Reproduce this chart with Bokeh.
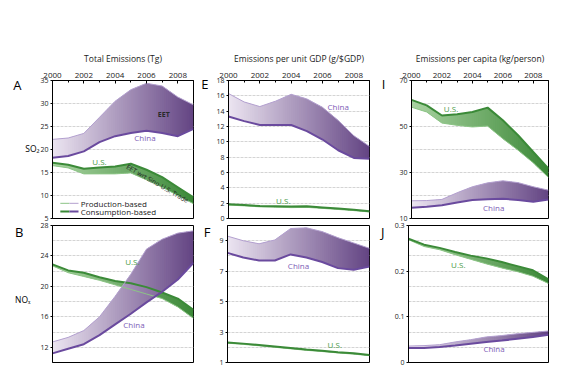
import numpy as np
from bokeh.plotting import figure
from bokeh.layouts import column, row
from bokeh.models import FixedTicker, PrintfTickFormatter, Label, Range1d, LinearAxis
from bokeh.embed import file_html
from bokeh.resources import INLINE

FONT = "Open Sans"
years = list(range(2000, 2010))

# ---- Panel A: SO2 total emissions (Tg)
a_china_prod = [22.2, 22.5, 23.5, 27.0, 30.5, 33.0, 34.4, 33.8, 31.4, 29.7]
a_china_cons = [18.2, 18.6, 19.6, 21.6, 22.9, 23.6, 24.1, 23.6, 22.9, 24.5]
a_us_prod = [16.5, 16.0, 14.7, 14.7, 14.7, 14.9, 13.4, 11.8, 10.0, 8.2]
a_us_cons = [17.1, 16.7, 15.8, 16.1, 16.3, 16.9, 15.6, 14.0, 11.8, 9.6]
# ---- Panel B: NOx total emissions (Tg)
b_china_prod = [12.7, 13.3, 14.2, 16.0, 18.7, 21.6, 24.9, 26.2, 27.0, 27.3]
b_china_cons = [11.2, 11.8, 12.4, 13.6, 15.0, 16.4, 17.9, 19.3, 20.9, 23.1]
b_us_prod = [22.7, 21.8, 21.3, 20.8, 20.2, 19.6, 19.0, 18.4, 17.3, 15.8]
b_us_cons = [22.9, 22.1, 21.8, 21.2, 20.7, 20.4, 19.9, 19.2, 18.4, 16.9]
# ---- Panel E: SO2 per unit GDP
e_china_prod = [16.3, 15.2, 14.6, 15.3, 16.2, 15.6, 14.5, 12.8, 10.8, 9.4]
e_china_cons = [13.3, 12.7, 12.2, 12.2, 12.2, 11.4, 10.3, 8.9, 7.9, 7.8]
e_us_prod = [1.75, 1.65, 1.52, 1.48, 1.42, 1.45, 1.32, 1.18, 1.03, 0.85]
e_us_cons = [1.85, 1.75, 1.62, 1.60, 1.55, 1.60, 1.45, 1.30, 1.15, 0.95]
# ---- Panel F: NOx per unit GDP
f_china_prod = [9.3, 9.0, 8.8, 9.05, 9.8, 9.85, 9.6, 9.2, 8.85, 8.5]
f_china_cons = [8.2, 7.9, 7.7, 7.7, 8.1, 7.9, 7.6, 7.2, 7.1, 7.3]
f_us_prod = [2.27, 2.19, 2.10, 2.00, 1.90, 1.80, 1.72, 1.63, 1.55, 1.45]
f_us_cons = [2.32, 2.24, 2.15, 2.05, 1.95, 1.85, 1.77, 1.68, 1.60, 1.50]
# ---- Panel I: SO2 per capita
i_china_prod = [17.7, 17.8, 18.3, 21.2, 23.8, 25.5, 26.4, 25.6, 23.8, 22.3]
i_china_cons = [14.7, 15.1, 15.8, 17.0, 18.0, 18.4, 18.6, 18.0, 17.3, 18.3]
i_us_prod = [58.4, 56.3, 51.5, 50.5, 49.8, 50.2, 44.7, 39.7, 34.2, 27.8]
i_us_cons = [61.6, 59.2, 54.8, 55.3, 56.3, 58.2, 52.7, 46.2, 38.9, 31.7]
# ---- Panel J: NOx per capita
j_china_prod = [0.036, 0.037, 0.039, 0.045, 0.050, 0.056, 0.059, 0.063, 0.066, 0.069]
j_china_cons = [0.032, 0.032, 0.034, 0.037, 0.041, 0.045, 0.048, 0.052, 0.056, 0.061]
j_us_prod = [0.269, 0.254, 0.247, 0.236, 0.226, 0.216, 0.207, 0.199, 0.189, 0.173]
j_us_cons = [0.271, 0.258, 0.251, 0.242, 0.234, 0.228, 0.220, 0.211, 0.202, 0.182]

year_ticks = [2000, 2002, 2004, 2006, 2008]
titles = ["Total Emissions (Tg)", "Emissions per unit GDP (g/$GDP)", "Emissions per capita (kg/person)"]

# colours
CH_LIGHT, CH_DARK = "#ece5f1", "#634483"
US_LIGHT, US_DARK = "#a9d3a1", "#3c8838"
CH_LINE, CH_LINE_L = "#6a4a9e", "#b3a0cf"
US_LINE, US_LINE_L = "#3b8a38", "#8cc486"
CH_TEXT, US_TEXT = "#7d5cb6", "#4b9b47"


def mix(c0, c1, t):
    a = [int(c0[i:i + 2], 16) for i in (1, 3, 5)]
    b = [int(c1[i:i + 2], 16) for i in (1, 3, 5)]
    return "#%02x%02x%02x" % tuple(int(round(a[k] + (b[k] - a[k]) * t)) for k in range(3))


def band(p, lower, upper, c0, c1, n=8):
    fine = np.linspace(years[0], years[-1], (len(years) - 1) * n + 1)
    step = fine[1] - fine[0]
    xs, ys, cols = [], [], []
    for k in range(len(fine) - 1):
        xa = fine[k]
        xb = min(fine[k + 1] + 0.6 * step, years[-1])
        seg = np.linspace(xa, xb, 4)
        lo = np.interp(seg, years, lower)
        up = np.interp(seg, years, upper)
        xs.append(list(seg) + list(seg[::-1]))
        ys.append(list(lo) + list(up[::-1]))
        t = (fine[k] + 0.5 * step - years[0]) / (years[-1] - years[0])
        cols.append(mix(c0, c1, t))
    p.patches(xs, ys, fill_color=cols, line_color=None)


def make_fig(w, h, bl, br, bt, bb, yr, yticks, ylabels, grid, top, title=None):
    p = figure(width=w, height=h, x_range=Range1d(2000, 2009), y_range=Range1d(*yr),
               output_backend="svg", toolbar_location=None,
               x_axis_location="above" if top else None,
               min_border_left=bl, min_border_right=br, min_border_top=bt, min_border_bottom=bb)
    p.outline_line_color = "black"
    p.outline_line_width = 1
    p.outline_line_alpha = 1
    p.xgrid.visible = False
    p.ygrid.ticker = FixedTicker(ticks=grid)
    p.ygrid.grid_line_color = "#d4d4d4"
    p.ygrid.grid_line_dash = "3 1"
    ya = p.yaxis[0]
    ya.ticker = FixedTicker(ticks=yticks)
    ya.major_label_overrides = dict(zip(yticks, ylabels))
    ya.major_label_text_font = FONT
    ya.major_label_text_font_size = "7px"
    ya.major_label_text_color = "#222222"
    ya.major_tick_out = 2
    ya.major_tick_in = 0
    ya.minor_tick_out = 0
    ya.minor_tick_in = 0
    ya.major_label_standoff = 2
    ya.axis_line_color = "black"
    if top:
        xa = p.xaxis[0]
        xa.ticker = FixedTicker(ticks=year_ticks, minor_ticks=years)
        xa.formatter = PrintfTickFormatter(format="%d")
        xa.major_tick_in = 3
        xa.major_tick_out = 0
        xa.minor_tick_in = 2
        xa.minor_tick_out = 0
        xa.major_label_standoff = 3
        xa.major_label_text_font = FONT
        xa.major_label_text_font_size = "8px"
        xa.major_label_text_color = "#222222"
        xa.axis_line_color = "black"
    if title:
        p.title.text = title
        p.title.align = "center"
        p.title.text_font = FONT
        p.title.text_font_size = "8.5px"
        p.title.text_font_style = "normal"
        p.title.text_color = "#222222"
        p.title.standoff = 11
    p.background_fill_color = "white"
    p.border_fill_color = "white"
    return p


def side_text(p, yv, text, size, standoff):
    # a text left of the frame, set as the only tick label of an extra left axis
    ax = LinearAxis(ticker=FixedTicker(ticks=[yv]), major_label_overrides={yv: text},
                    axis_line_color=None, major_tick_line_color=None, minor_tick_line_color=None,
                    major_tick_in=0, major_tick_out=0, minor_tick_in=0, minor_tick_out=0,
                    major_label_text_font=FONT, major_label_text_font_size=size,
                    major_label_text_color="black", major_label_standoff=standoff)
    p.add_layout(ax, "left")


def draw(p, ch_prod, ch_cons, us_prod, us_cons):
    band(p, us_prod, us_cons, US_LIGHT, US_DARK)
    band(p, ch_cons, ch_prod, CH_LIGHT, CH_DARK)
    p.line(years, us_prod, line_color=US_LINE_L, line_width=1)
    p.line(years, us_cons, line_color=US_LINE, line_width=2)
    p.line(years, ch_prod, line_color=CH_LINE_L, line_width=1)
    p.line(years, ch_cons, line_color=CH_LINE, line_width=2)


def lab(p, x, y, text, color, size="8px", angle=0.0, align="center", style="normal"):
    p.add_layout(Label(x=x, y=y, text=text, text_color=color, text_font=FONT, text_font_size=size,
                       text_align=align, text_baseline="middle", angle=angle, text_font_style=style))


# layout geometry (page has no margin: these are window pixels)
W = [198, 180, 184]
BL = [52, 29, 28]
BR = [5, 9, 14]
H1, BT1, BB1 = 222, 80, 4
H2, BT2, BB2 = 144, 3, 4

# ---------- A
pA = make_fig(W[0], H1, BL[0], BR[0], BT1, BB1, (5, 35), [5, 10, 15, 20, 25, 30, 35],
              ["5", "10", "15", "20", "25", "30", "35"], [10, 15, 20, 25, 30], True, titles[0])
draw(pA, a_china_prod, a_china_cons, a_us_prod, a_us_cons)
lab(pA, 2007.1, 27.6, "EET", "#2a2a2a", size="7px", style="bold")
lab(pA, 2005.9, 22.6, "China", CH_TEXT)
lab(pA, 2003.0, 17.3, "U.S.", US_TEXT)
lab(pA, 2006.7, 12.6, "EET wrt Sino-U.S. Trade", "#1e1e1e", size="6.5px", angle=-0.52)
side_text(pA, 20.3, "SO₂", "8.5px", -2)
side_text(pA, 34.0, "A", "13px", 1)
# legend (decoration)
lx0, lxm, lx1, ltx = 2000.5, 2001.08, 2001.66, 2001.8
ly_p, ly_c = 8.3, 6.5
pA.segment([lx0], [ly_p], [lxm], [ly_p], line_color=US_LINE_L, line_width=1)
pA.segment([lxm], [ly_p], [lx1], [ly_p], line_color=CH_LINE_L, line_width=1)
pA.segment([lx0], [ly_c], [lxm], [ly_c], line_color=US_LINE, line_width=2)
pA.segment([lxm], [ly_c], [lx1], [ly_c], line_color=CH_LINE, line_width=2)
lab(pA, ltx, ly_p, "Production-based", "#222222", size="8px", align="left")
lab(pA, ltx, ly_c, "Consumption-based", "#222222", size="8px", align="left")

# ---------- E
pE = make_fig(W[1], H1, BL[1], BR[1], BT1, BB1, (0, 18), list(range(0, 19, 2)),
              [str(v) for v in range(0, 19, 2)], list(range(2, 17, 2)), True, titles[1])
draw(pE, e_china_prod, e_china_cons, e_us_prod, e_us_cons)
lab(pE, 2007.0, 14.6, "China", CH_TEXT)
lab(pE, 2003.5, 2.4, "U.S.", US_TEXT)
side_text(pE, 17.5, "E", "13px", 5)

# ---------- I
pI = make_fig(W[2], H1, BL[2], BR[2], BT1, BB1, (10, 70), [10, 30, 50, 70],
              ["10", "30", "50", "70"], [20, 30, 40, 50, 60], True, titles[2])
draw(pI, i_china_prod, i_china_cons, i_us_prod, i_us_cons)
lab(pI, 2002.6, 57.8, "U.S.", US_TEXT)
lab(pI, 2005.4, 14.6, "China", CH_TEXT)
side_text(pI, 68.3, "I", "13px", 11)

# ---------- B
pB = make_fig(W[0], H2, BL[0], BR[0], BT2, BB2, (10, 28), [12, 16, 20, 24, 28],
              ["12", "16", "20", "24", "28"], list(range(12, 27, 2)), False)
draw(pB, b_china_prod, b_china_cons, b_us_prod, b_us_cons)
lab(pB, 2005.1, 23.3, "U.S.", US_TEXT)
lab(pB, 2005.2, 15.0, "China", CH_TEXT)
side_text(pB, 18.3, "NOₓ", "8.5px", 7)
side_text(pB, 27.2, "B", "13px", -11)

# ---------- F
pF = make_fig(W[1], H2, BL[1], BR[1], BT2, BB2, (1, 10), [1, 3, 5, 7, 9],
              ["1", "3", "5", "7", "9"], list(range(2, 10)), False)
draw(pF, f_china_prod, f_china_cons, f_us_prod, f_us_cons)
lab(pF, 2004.5, 7.4, "China", CH_TEXT)
lab(pF, 2006.8, 2.15, "U.S.", US_TEXT)
side_text(pF, 9.6, "F", "13px", 6)

# ---------- J
pJ = make_fig(W[2], H2, BL[2], BR[2], BT2, BB2, (0, 0.3), [0, 0.1, 0.2, 0.3],
              ["0", "0.1", "0.2", "0.3"], [k / 30 for k in range(1, 9)], False)
draw(pJ, j_china_prod, j_china_cons, j_us_prod, j_us_cons)
lab(pJ, 2003.2, 0.214, "U.S.", US_TEXT)
lab(pJ, 2005.5, 0.031, "China", CH_TEXT)
side_text(pJ, 0.286, "J", "13px", 7)

layout = column(row(pA, pE, pI), row(pB, pF, pJ))
open("out.html", "w").write(file_html(layout, INLINE))
